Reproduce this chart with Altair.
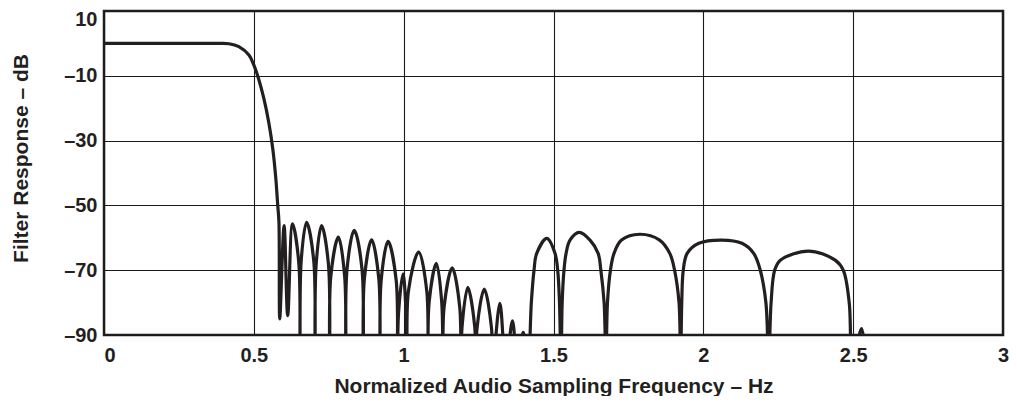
import altair as alt
import pandas as pd

# ---- data ----
# passband and transition band
pass_freq = [0.0, 0.20, 0.38, 0.417, 0.450, 0.4836, 0.5002, 0.5168, 0.5334, 0.5500, 0.5632, 0.5732, 0.5798, 0.5838]
pass_db = [0.0, 0.0, 0.0, -0.1, -1.0, -3.6, -6.7, -11.2, -17.0, -24.5, -32.5, -41.5, -50.0, -55.2]

# narrow stop-band lobes (0.58 .. 1.42)
near_freq = [0.5865, 0.601, 0.613, 0.629,
             0.650, 0.654, 0.658, 0.676,
             0.700, 0.704, 0.708, 0.726,
             0.749, 0.753, 0.757, 0.782,
             0.803, 0.807, 0.811, 0.835,
             0.861, 0.865, 0.869, 0.893,
             0.917, 0.921, 0.925, 0.948,
             0.975, 0.979, 0.983, 0.998,
             1.008, 1.012, 1.016, 1.050,
             1.077, 1.081, 1.085, 1.109,
             1.127, 1.131, 1.135, 1.162,
             1.187, 1.191, 1.195, 1.214,
             1.237, 1.241, 1.245, 1.269,
             1.293, 1.297, 1.321,
             1.341, 1.363,
             1.380, 1.399,
             1.415]
near_db = [-85.0, -56.2, -84.0, -55.7,
           -67.7, -100.0, -67.2, -55.2,
           -67.2, -100.0, -68.2, -56.2,
           -68.2, -100.0, -71.8, -59.8,
           -71.8, -100.0, -69.7, -57.7,
           -69.7, -100.0, -72.6, -60.6,
           -72.6, -100.0, -73.1, -61.1,
           -73.1, -100.0, -83.1, -71.1,
           -83.1, -100.0, -76.4, -64.4,
           -76.4, -100.0, -79.9, -67.9,
           -79.9, -100.0, -81.3, -69.3,
           -81.3, -100.0, -87.3, -75.3,
           -87.3, -100.0, -87.8, -75.8,
           -87.8, -100.0, -80.2,
           -100.0, -85.6,
           -100.0, -89.2,
           -100.0]

# wide stop-band lobes (1.42 .. 2.55)
wide_freq = [1.426, 1.435, 1.444, 1.478, 1.505, 1.514, 1.520, 1.525,
             1.529, 1.535, 1.542, 1.555, 1.586, 1.622, 1.649, 1.658, 1.669, 1.675,
             1.680, 1.690, 1.702, 1.727, 1.788, 1.854, 1.888, 1.904, 1.919, 1.924,
             1.928, 1.933, 1.946, 1.985, 2.061, 2.129, 2.168, 2.190, 2.209, 2.218,
             2.226, 2.238, 2.257, 2.351, 2.440, 2.467, 2.487, 2.497,
             2.528, 2.545]
wide_db = [-80.0, -70.0, -64.8, -60.2, -64.8, -70.0, -80.0, -100.0,
           -80.0, -70.0, -64.8, -60.7, -58.3, -60.7, -64.8, -70.0, -80.2, -100.0,
           -80.2, -70.0, -64.8, -60.7, -58.9, -60.7, -64.8, -70.0, -80.2, -100.0,
           -80.0, -70.0, -64.8, -61.7, -60.7, -61.7, -64.8, -70.0, -80.2, -100.0,
           -80.2, -70.0, -66.9, -64.1, -66.9, -70.0, -80.2, -100.0,
           -88.0, -100.0]

x_ticks = [0, 0.5, 1, 1.5, 2, 2.5, 3]
y_ticks = [-90, -70, -50, -30, -10, 10]

df = pd.DataFrame({
    "f": pass_freq + near_freq + wide_freq,
    "db": pass_db + near_db + wide_db,
})

FONT = "Liberation Sans"
INK = "#231f20"

x_axis = alt.Axis(
    values=x_ticks,
    format="~g",
    title="Normalized Audio Sampling Frequency – Hz",
    grid=True, gridColor="#1a1a1a", gridWidth=1.1, gridOpacity=1,
    ticks=False, domain=False,
    labelFont=FONT, labelFontSize=20, labelFontWeight="bold", labelColor=INK,
    labelPadding=10,
    labelAlign={"condition": {"test": "datum.value === 0", "value": "left"}, "value": "center"},
    titleFont=FONT, titleFontSize=21, titleFontWeight="bold", titleColor=INK,
    titleY=57, titleBaseline="alphabetic",
)

y_axis = alt.Axis(
    values=y_ticks,
    labelExpr="(datum.value < 0 ? '–' : '') + abs(datum.value)",
    title="Filter Response – dB",
    grid=True, gridColor="#1a1a1a", gridWidth=1.1, gridOpacity=1,
    ticks=False, domain=False,
    labelFont=FONT, labelFontSize=20, labelFontWeight="bold", labelColor=INK,
    labelPadding=7,
    labelOffset={"condition": {"test": "datum.value === 10", "value": 8}, "value": 0},
    titleFont=FONT, titleFontSize=21, titleFontWeight="bold", titleColor=INK,
    titleX=-77, titleY=147, titleAngle=270, titleBaseline="alphabetic",
)

chart = alt.Chart(df).mark_line(
    interpolate="catmull-rom", clip=True, color=INK, strokeWidth=3.2
).encode(
    x=alt.X("f:Q", scale=alt.Scale(domain=[0, 3], nice=False), axis=x_axis),
    y=alt.Y("db:Q", scale=alt.Scale(domain=[-90, 10], nice=False, zero=False), axis=y_axis),
).properties(
    width=899,
    height=324,
    autosize="none",
    padding={"left": 96, "top": 3, "right": 6, "bottom": 61},
    background="white",
).configure_view(
    stroke=INK, strokeWidth=2.5
)

chart.save("out.html", embed_options={"renderer": "svg", "actions": False})
